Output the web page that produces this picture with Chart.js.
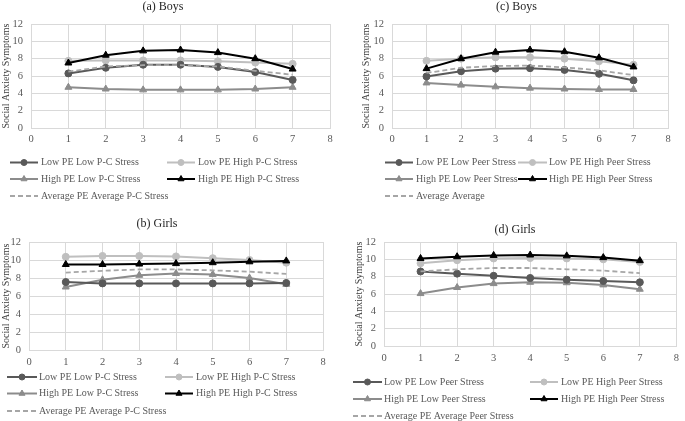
<!DOCTYPE html>
<html><head><meta charset="utf-8">
<script src="https://cdn.jsdelivr.net/npm/chart.js@4.4.0/dist/chart.umd.min.js"></script>
<style>
html,body{margin:0;padding:0;background:#fff;width:685px;height:421px;overflow:hidden;position:relative}
canvas{position:absolute}
</style></head><body>
<canvas id="ca" width="342" height="210" style="left:0px;top:0px"></canvas>
<canvas id="cc" width="343" height="210" style="left:342px;top:0px"></canvas>
<canvas id="cb" width="342" height="211" style="left:0px;top:210px"></canvas>
<canvas id="cd" width="343" height="211" style="left:342px;top:210px"></canvas>
<script>
// ---- data ----
const timePoints = [1, 2, 3, 4, 5, 6, 7];
const xTickValues = [0, 1, 2, 3, 4, 5, 6, 7, 8];
const yTickValues = [0, 2, 4, 6, 8, 10, 12];
const yAxisTitle = 'Social Anxiety Symptoms';

const titleA = '(a) Boys';
const titleB = '(b) Girls';
const titleC = '(c) Boys';
const titleD = '(d) Girls';

const labelsPC = ['Low PE Low P-C Stress', 'Low PE High P-C Stress', 'High PE Low P-C Stress', 'High PE High P-C Stress', 'Average PE Average P-C Stress'];
const labelsPeerC = ['Low PE Low Peer Stress', 'Low PE High Peer Stress', 'High PE Low Peer Stress', 'High PE High Peer Stress', 'Average Average'];
const labelsPeerD = ['Low PE Low Peer Stress', 'Low PE High Peer Stress', 'High PE Low Peer Stress', 'High PE High Peer Stress', 'Average PE Average Peer Stress'];

// (a) Boys, P-C stress
const a_lowLow   = [6.3, 6.95, 7.3, 7.3, 7.05, 6.45, 5.55];
const a_lowHigh  = [7.75, 7.8, 7.8, 7.8, 7.7, 7.55, 7.4];
const a_highLow  = [4.7, 4.5, 4.4, 4.4, 4.4, 4.5, 4.7];
const a_highHigh = [7.5, 8.4, 8.9, 9.0, 8.7, 8.0, 6.8];
const a_avg      = [6.5, 7.1, 7.25, 7.25, 7.1, 6.6, 6.15];

// (b) Girls, P-C stress
const b_lowLow   = [7.55, 7.4, 7.4, 7.4, 7.4, 7.4, 7.45];
const b_lowHigh  = [10.35, 10.45, 10.45, 10.4, 10.2, 10.0, 9.7];
const b_highLow  = [7.0, 7.8, 8.3, 8.5, 8.4, 8.0, 7.3];
const b_highHigh = [9.5, 9.5, 9.55, 9.6, 9.7, 9.8, 9.9];
const b_avg      = [8.6, 8.8, 8.95, 8.95, 8.85, 8.7, 8.45];

// (c) Boys, peer stress
const c_lowLow   = [5.95, 6.55, 6.85, 6.9, 6.7, 6.25, 5.5];
const c_lowHigh  = [7.75, 8.0, 8.15, 8.15, 8.0, 7.7, 7.3];
const c_highLow  = [5.2, 4.95, 4.75, 4.6, 4.5, 4.45, 4.45];
const c_highHigh = [6.85, 8.0, 8.75, 9.0, 8.8, 8.1, 7.05];
const c_avg      = [6.35, 6.95, 7.15, 7.2, 7.0, 6.65, 6.1];

// (d) Girls, peer stress
const d_lowLow   = [8.6, 8.35, 8.1, 7.85, 7.65, 7.5, 7.35];
const d_lowHigh  = [9.55, 9.9, 10.1, 10.15, 10.1, 10.0, 9.7];
const d_highLow  = [6.05, 6.75, 7.2, 7.35, 7.3, 7.05, 6.55];
const d_highHigh = [10.1, 10.3, 10.45, 10.5, 10.4, 10.2, 9.85];
const d_avg      = [8.6, 8.85, 9.0, 9.0, 8.85, 8.7, 8.4];

// ---- styles ----
const FONT = "'Liberation Serif', 'Times New Roman', serif";
const STY = [
  {color:'#595959', style:'circle',   r:3.5, dash:[],    order:2},
  {color:'#bfbfbf', style:'circle',   r:3.5, dash:[],    order:3},
  {color:'#8c8c8c', style:'triangle', r:4,   dash:[],    order:4},
  {color:'#000000', style:'triangle', r:4,   dash:[],    order:0},
  {color:'#a6a6a6', style:false,      r:0,   dash:[5,3], order:1}
];

const deco = {
  id: 'panelDeco',
  afterDraw(chart) {
    const o = chart.options.plugins.panelDeco;
    const ctx = chart.ctx;
    ctx.save();
    // panel title
    ctx.font = '12px ' + FONT;
    ctx.fillStyle = '#262626';
    ctx.textAlign = 'center';
    ctx.textBaseline = 'middle';
    ctx.fillText(o.title, o.titleX, o.titleY);
    // legend
    ctx.font = '10px ' + FONT;
    ctx.textAlign = 'left';
    chart.data.datasets.forEach((ds, i) => {
      const pos = o.legend[i];
      const [x0, x1, tx, y] = pos;
      ctx.save();
      ctx.strokeStyle = ds.borderColor;
      ctx.lineWidth = ds.borderWidth;
      ctx.setLineDash(ds.borderDash || []);
      ctx.beginPath(); ctx.moveTo(x0, y); ctx.lineTo(x1, y); ctx.stroke();
      ctx.restore();
      if (ds.pointStyle) {
        ctx.save();
        ctx.fillStyle = ds.borderColor;
        ctx.strokeStyle = ds.borderColor;
        Chart.helpers.drawPoint(ctx, {pointStyle: ds.pointStyle, radius: ds.pointRadius - 0.5, borderWidth: 1, rotation: 0}, (x0 + x1) / 2, y);
        ctx.restore();
      }
      ctx.fillStyle = '#595959';
      ctx.fillText(ds.label, tx, y);
    });
    ctx.restore();
  }
};

function makeChart(id, labels, series, cfg) {
  const datasets = series.map((vals, i) => ({
    label: labels[i],
    data: timePoints.map((t, k) => ({x: t, y: vals[k]})),
    borderColor: STY[i].color,
    backgroundColor: STY[i].color,
    borderWidth: i === 4 ? 1.8 : 2,
    borderDash: STY[i].dash,
    pointStyle: STY[i].style,
    pointRadius: STY[i].r,
    pointBorderWidth: 1,
    tension: 0,
    order: STY[i].order
  }));
  return new Chart(document.getElementById(id), {
    type: 'line',
    data: {datasets},
    options: {
      responsive: false, animation: false, devicePixelRatio: 1,
      layout: {padding: {left: 0, top: cfg.plotTop, right: cfg.padRight, bottom: cfg.padBottom}},
      plugins: {
        legend: {display: false}, tooltip: {enabled: false}, title: {display: false},
        panelDeco: {title: cfg.title, titleX: cfg.titleX, titleY: cfg.titleY, legend: cfg.legend}
      },
      scales: {
        x: {
          type: 'linear', min: 0, max: 8,
          afterBuildTicks(s) { s.ticks = xTickValues.map(v => ({value: v})); },
          ticks: {padding: cfg.xPad, color: '#595959', font: {family: FONT, size: 10.5}},
          grid: {color: '#d9d9d9', drawTicks: false, lineWidth: 1},
          border: {color: '#d9d9d9'},
          afterFit(s) { s.height = 20; }
        },
        y: {
          min: 0, max: 12,
          afterBuildTicks(s) { s.ticks = yTickValues.map(v => ({value: v})); },
          ticks: {padding: 8, color: '#595959', font: {family: FONT, size: 10.5}},
          grid: {color: '#d9d9d9', drawTicks: false, lineWidth: 1},
          border: {color: '#d9d9d9'},
          title: {display: true, text: yAxisTitle, color: '#404040', font: {family: FONT, size: 10}, padding: {top: cfg.yTitlePad, bottom: 0}},
          afterFit(s) { s.width = cfg.plotLeft; }
        }
      }
    },
    plugins: [deco]
  });
}

function leg(c1, c2, rows) {
  return [
    [c1[0], c1[1], c1[2], rows[0]],
    [c2[0], c2[1], c2[2], rows[0]],
    [c1[0], c1[1], c1[2], rows[1]],
    [c2[0], c2[1], c2[2], rows[1]],
    [c1[0], c1[1], c1[2], rows[2]]
  ];
}

makeChart('ca', labelsPC, [a_lowLow, a_lowHigh, a_highLow, a_highHigh, a_avg], {
  plotLeft: 31, plotTop: 24, padRight: 12, padBottom: 62, xPad: 5, yTitlePad: 0,
  title: titleA, titleX: 163, titleY: 6.5,
  legend: leg([10, 38, 41], [167, 195, 198], [162.5, 179, 196])
});
makeChart('cc', labelsPeerC, [c_lowLow, c_lowHigh, c_highLow, c_highHigh, c_avg], {
  plotLeft: 50, plotTop: 24, padRight: 17, padBottom: 62, xPad: 5, yTitlePad: 18.5,
  title: titleC, titleX: 174.5, titleY: 6.5,
  legend: leg([43, 71, 74], [176, 205, 207], [162.5, 179, 196])
});
makeChart('cb', labelsPC, [b_lowLow, b_lowHigh, b_highLow, b_highHigh, b_avg], {
  plotLeft: 29, plotTop: 32, padRight: 19, padBottom: 51, xPad: 6, yTitlePad: 0,
  title: titleB, titleX: 157, titleY: 14,
  legend: leg([7, 37, 39], [165, 193, 196], [167, 183.5, 201])
});
makeChart('cd', labelsPeerD, [d_lowLow, d_lowHigh, d_highLow, d_highHigh, d_avg], {
  plotLeft: 42, plotTop: 32, padRight: 5, padBottom: 55, xPad: 6, yTitlePad: 11,
  title: titleD, titleX: 173, titleY: 19.5,
  legend: leg([11, 40, 42], [188, 216, 219], [172, 189, 206])
});
</script>
</body></html>
